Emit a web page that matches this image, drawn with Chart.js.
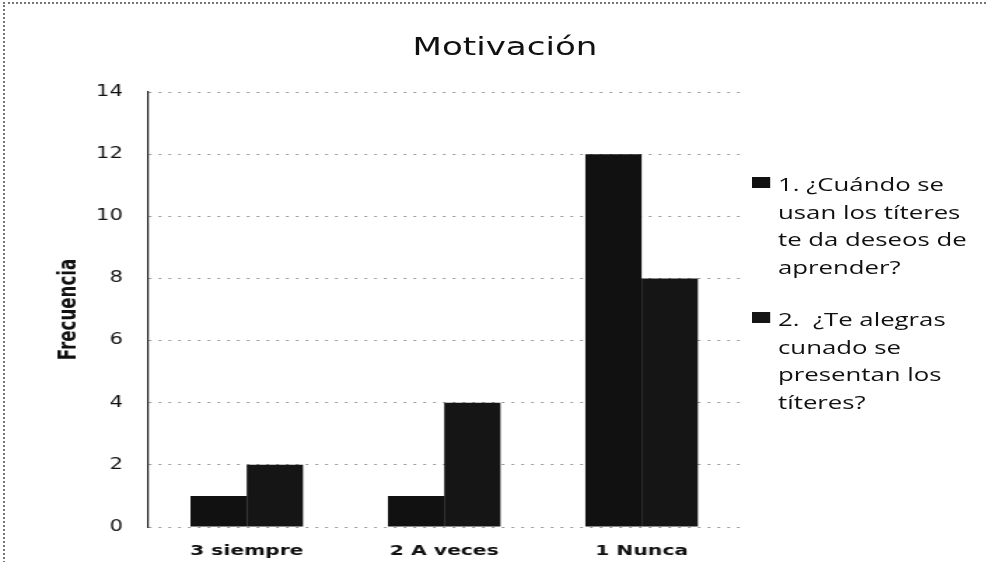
<!DOCTYPE html>
<html>
<head>
<meta charset="utf-8">
<script src="https://cdn.jsdelivr.net/npm/chart.js@4/dist/chart.umd.min.js"></script>
<style>
  html, body { margin: 0; padding: 0; background: #fff; }
  #wrap { position: relative; width: 986px; height: 562px; overflow: hidden; }
  #chart { position: absolute; left: 0; top: 0; }
  #frame { position: absolute; left: 3px; top: 2px; right: -4px; bottom: -4px;
           border-top: 2px dotted #777; border-left: 2px dotted #777; pointer-events: none; }
  #title { position: absolute; left: 505px; top: 34px; white-space: nowrap;
           font-family: 'DejaVu Sans', sans-serif; font-size: 24px; line-height: 26px; color: #111;
           transform: translateX(-50%) scaleX(1.42); }
  #legend { position: absolute; left: 752px; top: 170px;
            font-family: 'Open Sans', sans-serif; font-size: 18.4px; line-height: 27.5px; color: #111;
            transform-origin: left top; transform: scaleX(1.4); white-space: pre; }
  #legend .item { position: relative; padding-left: 18.6px; margin-bottom: 25px; }
  #legend .box { position: absolute; left: 0; top: 7px; width: 13px; height: 11px; }
</style>
</head>
<body>
<div id="wrap">
  <canvas id="chart" width="704" height="562" style="width:986px;height:562px"></canvas>
  <div id="frame"></div>
  <div id="title">Motivación</div>
  <div id="legend"></div>
</div>
<script>
var categories = ["3 siempre", "2 A veces", "1 Nunca"];
// legend names, one entry per line as they wrap in the picture
var seriesNames = [["1. ¿Cuándo se", "usan los títeres", "te da deseos de", "aprender?"],
                   ["2.  ¿Te alegras", "cunado se", "presentan los", "títeres?"]];
var serie1 = [1, 1, 12];
var serie2 = [2, 4, 8];
var yTicks = [0, 2, 4, 6, 8, 10, 12, 14];
var barColors = ["#111111", "#151515"];

// the picture is stretched sideways, so the canvas is drawn narrow and widened by css
var ctx = document.getElementById('chart').getContext('2d');
var chart = new Chart(ctx, {
    type: 'bar',
    data: {
        labels: categories,
        datasets: [{
            label: seriesNames[0].join(' '),
            backgroundColor: barColors[0],
            data: serie1
        },
        {
            label: seriesNames[1].join(' '),
            backgroundColor: barColors[1],
            data: serie2
        }]
    },
    options: {
        responsive: false,
        animation: false,
        devicePixelRatio: 1,
        categoryPercentage: 0.57,
        barPercentage: 1,
        layout: { padding: { left: 36, right: 175.4, top: 92, bottom: 2.3 } },
        plugins: {
            legend: { display: false },
            tooltip: { enabled: false },
            title: { display: false }
        },
        scales: {
            x: {
                afterFit: function(scale) { scale.height = 32.7; },
                grid: { display: false, drawTicks: false },
                border: { display: false },
                ticks: { color: '#111', font: { family: 'DejaVu Sans', size: 14.5, weight: 'bold' }, padding: 15.3 }
            },
            y: {
                min: yTicks[0],
                max: yTicks[yTicks.length - 1],
                afterFit: function(scale) { scale.width = 69.7; },
                afterBuildTicks: function(scale) {
                    scale.ticks = yTicks.map(function(v) { return { value: v }; });
                },
                ticks: { color: '#111', font: { family: 'DejaVu Sans', size: 15 }, padding: 18 },
                grid: { color: '#9a9a9a', drawTicks: false },
                // in v4 border.dash is what makes the grid lines dotted
                border: { display: true, color: '#222', width: 1.2, dash: [2, 5] },
                title: {
                    display: true,
                    text: 'Frecuencia',
                    color: '#111',
                    font: { family: 'DejaVu Sans Condensed', size: 18.5, weight: 'bold' },
                    padding: { top: 2, bottom: 4 }
                }
            }
        }
    }
});

// legend in html so the long names wrap like in the picture
var legend = document.getElementById('legend');
chart.data.datasets.forEach(function(ds, i) {
    var item = document.createElement('div');
    item.className = 'item';
    var box = document.createElement('span');
    box.className = 'box';
    box.style.background = ds.backgroundColor;
    item.appendChild(box);
    seriesNames[i].forEach(function(line) {
        var l = document.createElement('div');
        l.textContent = line;
        item.appendChild(l);
    });
    legend.appendChild(item);
});
</script>
</body>
</html>
